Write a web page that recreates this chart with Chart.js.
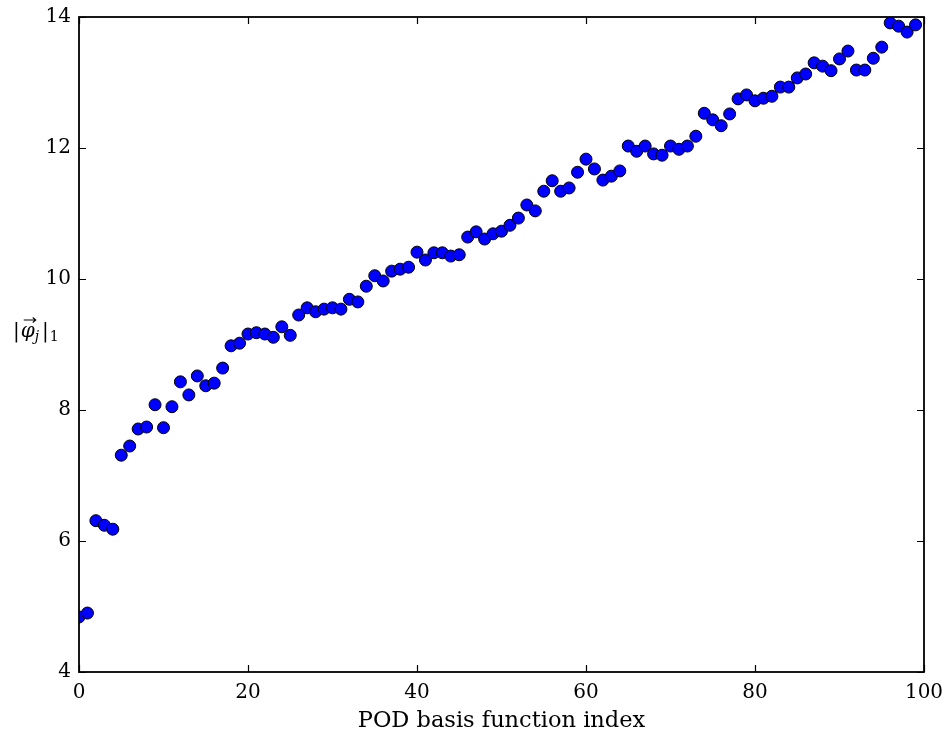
<!DOCTYPE html>
<html>
<head>
<meta charset="utf-8">
<script src="https://cdn.jsdelivr.net/npm/chart.js@4/dist/chart.umd.min.js"></script>
<style>
  html, body { margin: 0; padding: 0; background: #fff; }
  #wrap { width: 951px; height: 738px; }
</style>
</head>
<body>
<div id="wrap"><canvas id="podChart" width="951" height="738"></canvas></div>
<script>
// POD basis function index vs. L1 norm
const indices = [];
for (let i = 0; i < 100; i++) indices.push(i);

const normValues = [
    4.84, 4.90, 6.31, 6.24, 6.18, 7.31, 7.45, 7.71, 7.74, 8.08,
    7.73, 8.05, 8.43, 8.23, 8.52, 8.37, 8.41, 8.64, 8.98, 9.02,
    9.16, 9.18, 9.16, 9.11, 9.27, 9.14, 9.45, 9.56, 9.50, 9.54,
    9.56, 9.54, 9.69, 9.65, 9.89, 10.05, 9.97, 10.12, 10.15, 10.18,
    10.41, 10.29, 10.40, 10.40, 10.35, 10.37, 10.64, 10.72, 10.61, 10.69,
    10.73, 10.82, 10.93, 11.13, 11.04, 11.34, 11.50, 11.34, 11.39, 11.63,
    11.83, 11.68, 11.51, 11.57, 11.65, 12.03, 11.95, 12.03, 11.91, 11.89,
    12.03, 11.98, 12.03, 12.18, 12.53, 12.43, 12.34, 12.52, 12.75, 12.81,
    12.72, 12.76, 12.79, 12.93, 12.93, 13.07, 13.13, 13.30, 13.25, 13.18,
    13.36, 13.48, 13.19, 13.19, 13.37, 13.54, 13.91, 13.86, 13.77, 13.88
];

const xTicks = [0, 20, 40, 60, 80, 100];
const yTicks = [4, 6, 8, 10, 12, 14];

const serif = "'DejaVu Serif', serif";

// matplotlib-style frame with inward ticks on all sides
const framePlugin = {
    id: 'frame',
    afterDraw(chart) {
        const ctx = chart.ctx;
        const a = chart.chartArea;
        const xs = chart.scales.x;
        const ys = chart.scales.y;
        const len = 7;
        ctx.save();
        ctx.strokeStyle = '#000';
        ctx.lineWidth = 1.2;
        ctx.beginPath();
        xTicks.forEach(v => {
            const px = Math.round(xs.getPixelForValue(v)) + 0.5;
            ctx.moveTo(px, a.bottom); ctx.lineTo(px, a.bottom - len);
            ctx.moveTo(px, a.top); ctx.lineTo(px, a.top + len);
        });
        yTicks.forEach(v => {
            const py = Math.round(ys.getPixelForValue(v)) + 0.5;
            ctx.moveTo(a.left, py); ctx.lineTo(a.left + len, py);
            ctx.moveTo(a.right, py); ctx.lineTo(a.right - len, py);
        });
        ctx.stroke();
        ctx.lineWidth = 1.8;
        ctx.strokeRect(a.left, a.top, a.right - a.left, a.bottom - a.top);

        // y label: |phi_j|_1 with a vector arrow, horizontal
        const base = 337;
        let x = 13;
        ctx.fillStyle = '#000';
        ctx.textBaseline = 'alphabetic';
        ctx.textAlign = 'left';
        ctx.font = '20px ' + serif;
        ctx.fillText('|', x, base); x += ctx.measureText('|').width + 1;
        ctx.font = 'italic 20px ' + serif;
        const phiW = ctx.measureText('\u03C6').width;
        ctx.fillText('\u03C6', x, base);
        // arrow over phi
        const ay = base - 17;
        ctx.lineWidth = 1.1;
        ctx.beginPath();
        ctx.moveTo(x + 3, ay); ctx.lineTo(x + phiW + 1, ay);
        ctx.moveTo(x + phiW - 2, ay - 2.5); ctx.lineTo(x + phiW + 1, ay); ctx.lineTo(x + phiW - 2, ay + 2.5);
        ctx.stroke();
        x += phiW;
        ctx.font = 'italic 14px ' + serif;
        ctx.fillText('j', x, base + 4); x += ctx.measureText('j').width + 3;
        ctx.font = '20px ' + serif;
        ctx.fillText('|', x, base); x += ctx.measureText('|').width + 1;
        ctx.font = '14px ' + serif;
        ctx.fillText('1', x, base + 4);
        ctx.restore();
    }
};

new Chart(document.getElementById('podChart'), {
    type: 'scatter',
    data: {
        datasets: [{
            data: indices.map((i, k) => ({ x: i, y: normValues[k] })),
            backgroundColor: '#0000ff',
            borderColor: '#000',
            borderWidth: 1,
            pointRadius: 6,
            pointHoverRadius: 6,
            clip: 0
        }]
    },
    options: {
        responsive: false,
        animation: false,
        layout: { padding: { top: 17, right: 27, bottom: 0, left: 0 } },
        plugins: {
            legend: { display: false },
            tooltip: { enabled: false }
        },
        scales: {
            x: {
                type: 'linear',
                min: 0,
                max: 100,
                afterBuildTicks(s) { s.ticks = xTicks.map(v => ({ value: v })); },
                afterFit(s) { s.height = 66; s.paddingLeft = 0; s.paddingRight = 0; },
                grid: { display: false, drawTicks: false },
                border: { display: false },
                ticks: {
                    color: '#000',
                    padding: 9,
                    font: { family: serif, size: 20 }
                },
                title: {
                    display: true,
                    text: 'POD basis function index',
                    color: '#000',
                    padding: { top: 0, bottom: 3 },
                    font: { family: serif, size: 22.5 }
                }
            },
            y: {
                type: 'linear',
                min: 4,
                max: 14,
                afterBuildTicks(s) { s.ticks = yTicks.map(v => ({ value: v })); },
                afterFit(s) { s.width = 79; s.paddingTop = 0; s.paddingBottom = 0; },
                grid: { display: false, drawTicks: false },
                border: { display: false },
                ticks: {
                    color: '#000',
                    padding: 8,
                    font: { family: serif, size: 20 }
                }
            }
        }
    },
    plugins: [framePlugin]
});
</script>
</body>
</html>
